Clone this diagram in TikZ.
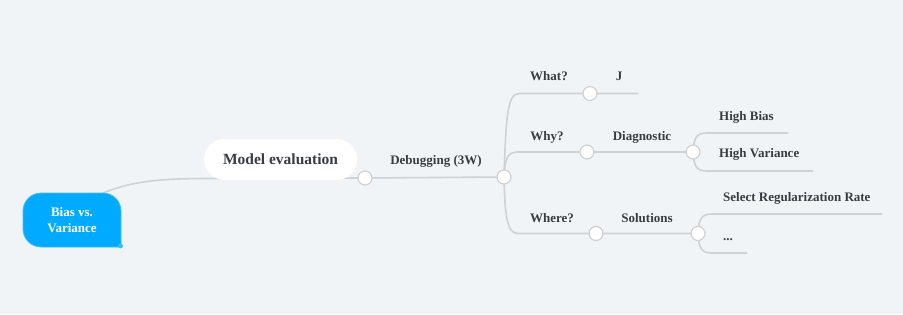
\documentclass[tikz,border=0pt]{standalone}
\usepackage{fontspec}
\setmainfont{Liberation Serif}
\pgfdeclarelayer{back}
\pgfsetlayers{back,main}
\definecolor{canvas}{RGB}{240,244,247}
\definecolor{rootblue}{RGB}{0,170,255}
\definecolor{rootedge}{RGB}{70,190,255}
\definecolor{rootdot}{RGB}{60,185,255}
\definecolor{linkgray}{RGB}{206,210,213}
\definecolor{ink}{RGB}{58,60,64}
\tikzset{
  x=1pt, y=1pt,
  link/.style={draw=linkgray, line width=1.6pt},
  knob/.style={circle, draw=linkgray, line width=1.2pt, fill=white, minimum size=14pt, inner sep=0pt},
  lbl/.style={font=\fontsize{13}{15}\selectfont\bfseries, text=ink, inner sep=0pt, text height=9pt, text depth=2.5pt},
  pill/.style={fill=white, rounded corners=20.5pt, minimum width=153pt, minimum height=41pt, inner sep=0pt,
               font=\fontsize{15.5}{18}\selectfont\bfseries, text=ink},
}
\begin{document}
\begin{tikzpicture}
  \useasboundingbox (0,0) rectangle (903,314);
  \begin{pgfonlayer}{back}
    \fill[canvas] (0,0) rectangle (903,314);
  \end{pgfonlayer}

  % root topic
  \filldraw[fill=rootblue, draw=rootedge, line width=0.8pt]
    (41,121) -- (103,121) arc[start angle=90,end angle=0,radius=18]
    -- (121,67) -- (41,67) arc[start angle=270,end angle=180,radius=18]
    -- (23,103) arc[start angle=180,end angle=90,radius=18] -- cycle;
  \fill[rootdot] (120.5,68) circle (2.4);
  \node[align=center, text=white, font=\fontsize{13}{16}\selectfont\bfseries, inner sep=0pt]
    (root) at (72,94) {Bias vs.\\Variance};
  \coordinate (rootout) at (103,121);

  % first level
  \node[pill] (model) at (280.5,154.5) {Model evaluation};
  \node[knob] (c1) at (365,136) {};
  \node[knob] (deb) at (504,137) {};
  \node[lbl] (debl) at (436,153) {Debugging (3W)};

  % what / why / where
  \node[knob] (whatk) at (590,220.5) {};
  \coordinate (whatend) at (638,220.5);
  \node[lbl] (whatl) at (549,237) {What?};
  \node[lbl] (jl) at (619,237) {J};

  \node[knob] (whyk) at (587,162) {};
  \node[knob] (diagk) at (693,162) {};
  \node[lbl] (whyl) at (547,177) {Why?};
  \node[lbl] (diagl) at (642,177) {Diagnostic};

  \node[knob] (wherek) at (596,80.5) {};
  \node[knob] (solk) at (698,80.5) {};
  \node[lbl] (wherel) at (552,95) {Where?};
  \node[lbl] (soll) at (647,95) {Solutions};

  % leaves
  \coordinate (biasend) at (788,181);
  \coordinate (varend) at (813,143);
  \node[lbl, anchor=west] (biasl) at (719,197) {High Bias};
  \node[lbl, anchor=west] (varl) at (719,160) {High Variance};

  \coordinate (regend) at (882,100);
  \coordinate (dotsend) at (747,61);
  \node[lbl, anchor=west] (regl) at (723,116) {Select Regularization Rate};
  \node[lbl, anchor=west] (dotsl) at (723,77) {...};

  % connectors
  \begin{pgfonlayer}{back}
    \draw[link] (rootout) .. controls (135,134) and (165,135.5) .. (213,135.5) -- (c1.center);
    \draw[link] (c1.center) -- (deb.center);
    \draw[link] (deb.center) .. controls (506,195) and (507,220.5) .. (519,220.5)
      -- (whatk.center) -- (whatend);
    \draw[link] (deb.center) .. controls (505,155) and (507,162) .. (518,162)
      -- (whyk.center) -- (diagk.center);
    \draw[link] (deb.center) .. controls (505,97) and (507,80.5) .. (518,80.5)
      -- (wherek.center) -- (solk.center);
    \draw[link] (diagk.center) .. controls (694,176) and (696,181) .. (707,181) -- (biasend);
    \draw[link] (diagk.center) .. controls (694,148) and (696,143) .. (707,143) -- (varend);
    \draw[link] (solk.center) .. controls (699,95) and (701,100) .. (712,100) -- (regend);
    \draw[link] (solk.center) .. controls (699,66) and (701,61) .. (712,61) -- (dotsend);
  \end{pgfonlayer}
\end{tikzpicture}
\end{document}
